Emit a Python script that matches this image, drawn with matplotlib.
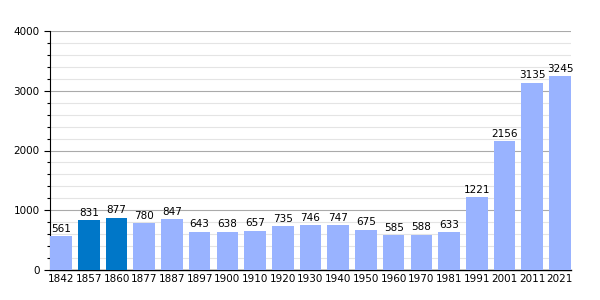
import numpy as np
import matplotlib.pyplot as plt
from matplotlib.ticker import MultipleLocator

years = ['1842', '1857', '1860', '1877', '1887', '1897', '1900', '1910', '1920', '1930',
         '1940', '1950', '1960', '1970', '1981', '1991', '2001', '2011', '2021']
pop = [561, 831, 877, 780, 847, 643, 638, 657, 735, 746,
       747, 675, 585, 588, 633, 1221, 2156, 3135, 3245]
highlight = ['1857', '1860']

light = '#99b3ff'
dark = '#0077c8'

fig = plt.figure(figsize=(6, 3), dpi=100)
ax = fig.add_axes([50/600, 30/300, 521/600, 239/300])

x = np.arange(len(years))
colors = [dark if y in highlight else light for y in years]
bars = ax.bar(x, pop, width=0.78, color=colors, zorder=3)

for xi, v in zip(x, pop):
    ax.text(xi, v + 40, str(v), ha='center', va='bottom', fontsize=7.5, zorder=4)

ax.set_xlim(-0.4, len(years) - 0.6)
ax.set_ylim(0, 4000)
ax.set_xticks(x)
ax.set_xticklabels(years, fontsize=7.5)
ax.yaxis.set_major_locator(MultipleLocator(1000))
ax.yaxis.set_minor_locator(MultipleLocator(200))
ax.tick_params(axis='y', labelsize=7.5, length=4, width=0.8, color='black')
ax.tick_params(axis='y', which='minor', length=2.5, width=0.8)
ax.tick_params(axis='x', length=0, pad=3)

ax.grid(which='major', axis='y', color='#aaaaaa', linewidth=0.8, zorder=0)
ax.grid(which='minor', axis='y', color='#e4e4e4', linewidth=0.8, zorder=0)

for s in ['top', 'right']:
    ax.spines[s].set_visible(False)
ax.spines['left'].set_linewidth(0.8)
ax.spines['bottom'].set_linewidth(1.0)

fig.savefig('out.png', dpi=100)
